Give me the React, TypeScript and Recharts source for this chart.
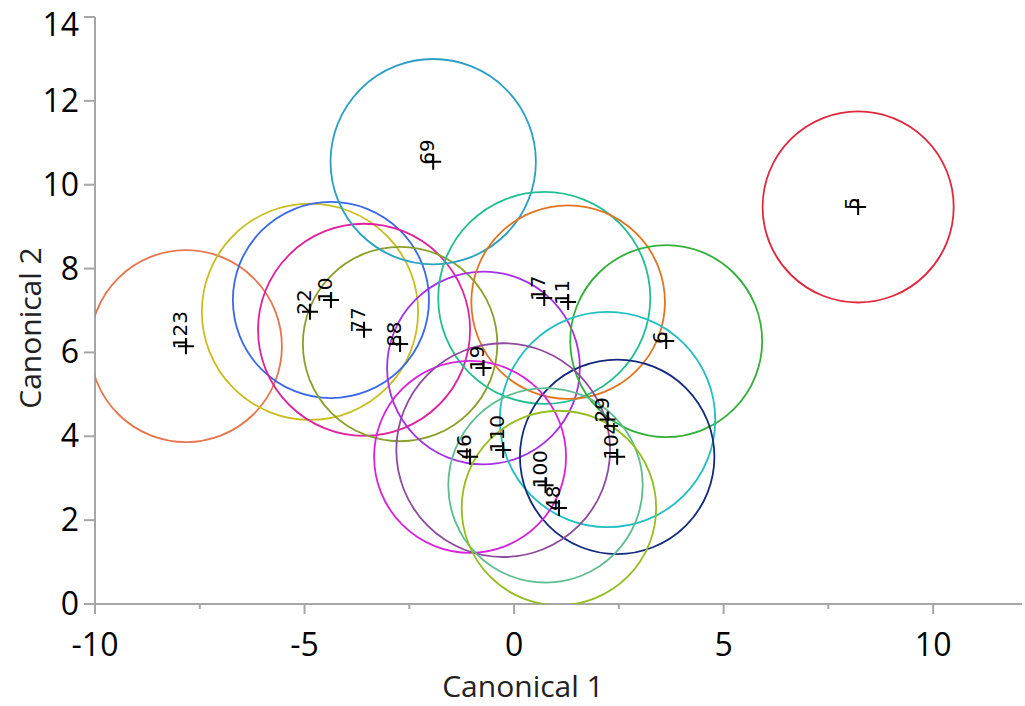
import React from 'react';
import { ScatterChart, Scatter, XAxis, YAxis } from 'recharts';

// group centroids in canonical space, with circle radius in canonical units
const groups = ['123', '22', '10', '77', '88', '69', '19', '17', '11', '6', '5', '29', '104', '46', '110', '100', '48'];
const canonical1 = [-7.83, -4.87, -4.37, -3.58, -2.72, -1.93, -0.73, 0.72, 1.29, 3.63, 8.21, 2.23, 2.46, -1.05, -0.26, 0.75, 1.07];
const canonical2 = [6.15, 6.97, 7.25, 6.54, 6.2, 10.55, 5.63, 7.3, 7.2, 6.27, 9.47, 4.4, 3.51, 3.51, 3.67, 2.83, 2.29];
const radius = [2.29, 2.58, 2.34, 2.53, 2.32, 2.45, 2.3, 2.53, 2.31, 2.29, 2.28, 2.57, 2.32, 2.29, 2.55, 2.32, 2.32];

const xTicks = [-10, -7.5, -5, -2.5, 0, 2.5, 5, 7.5, 10];
const yTicks = [0, 2, 4, 6, 8, 10, 12, 14];

const palette = [
    '#E8744E', '#C9BE1E', '#3A68E6', '#E0229E', '#8B9E2A', '#2BA0C4', '#A52EE6', '#22BE92', '#E27420',
    '#32B03A', '#E0283C', '#22BEC2', '#13297E', '#D822DC', '#8E4A9E', '#5CBE8E', '#92BE1E',
];

const W = 1025;
const H = 706;
const margin = { top: 17, right: 3, left: 0, bottom: 0 };
const Y_AXIS_W = 95;
const X_AXIS_H = 102;
const X_DOMAIN: [number, number] = [-10, 12.12];
const Y_DOMAIN: [number, number] = [0, 14];

// pixels per canonical unit, taken from the x axis scale
const pxPerUnit = (W - margin.left - margin.right - Y_AXIS_W) / (X_DOMAIN[1] - X_DOMAIN[0]);

const AXIS = '#A6A6A6';
const FONT = '"Open Sans", sans-serif';
const TICK_FS = 32;

const data = groups.map((id, i) => ({
    id,
    x: canonical1[i],
    y: canonical2[i],
    r: radius[i],
    color: palette[i],
}));

const Ring = (props: any) => {
    const { cx, cy, payload } = props;
    return <circle cx={cx} cy={cy} r={payload.r * pxPerUnit} fill="none" stroke={payload.color} strokeWidth={1.8} />;
};

const Marker = (props: any) => {
    const { cx, cy, payload } = props;
    return (
        <g>
            <path d={`M${cx - 8},${cy}H${cx + 8}M${cx},${cy - 8}V${cy + 8}`} stroke="#000" strokeWidth={2} />
            <text
                transform={`translate(${cx + 1},${cy + 3}) rotate(-90)`}
                fontFamily='"DejaVu Sans", sans-serif'
                fontSize={20}
                fill="#000"
            >
                {payload.id}
            </text>
        </g>
    );
};

const XTick = (props: any) => {
    const { x, y, payload } = props;
    const major = payload.value % 5 === 0;
    return (
        <g>
            <line x1={x} x2={x} y1={y} y2={y + (major ? 10 : 5)} stroke={AXIS} strokeWidth={2} />
            {major && (
                <text x={x} y={y + 52} textAnchor="middle" fontFamily={FONT} fontSize={TICK_FS} fill="#000">
                    {payload.value}
                </text>
            )}
        </g>
    );
};

// top label is pushed down so it stays inside the frame
const YTick = (props: any) => {
    const { x, y, payload } = props;
    return (
        <text x={x} y={Math.max(y + 11, 36)} textAnchor="end" fontFamily={FONT} fontSize={TICK_FS} fill="#000">
            {payload.value}
        </text>
    );
};

const XTitle = () => (
    <text x={523} y={697} textAnchor="middle" fontFamily={FONT} fontSize={30} fill="#222">
        Canonical 1
    </text>
);

const YTitle = () => (
    <text transform="translate(41,328) rotate(-90)" textAnchor="middle" fontFamily={FONT} fontSize={30} fill="#222">
        Canonical 2
    </text>
);

const App: React.FC = () => {
    return (
        <div style={{ position: 'absolute', left: 0, top: 0, background: '#fff' }}>
            <ScatterChart width={W} height={H} margin={margin}>
                <XAxis
                    type="number"
                    dataKey="x"
                    domain={X_DOMAIN}
                    allowDataOverflow
                    ticks={xTicks}
                    interval={0}
                    height={X_AXIS_H}
                    tickSize={0}
                    tickMargin={0}
                    tickLine={false}
                    axisLine={{ stroke: AXIS, strokeWidth: 2 }}
                    tick={<XTick />}
                    label={<XTitle />}
                />
                <YAxis
                    type="number"
                    dataKey="y"
                    domain={Y_DOMAIN}
                    allowDataOverflow
                    ticks={yTicks}
                    interval={0}
                    width={Y_AXIS_W}
                    tickSize={11}
                    tickMargin={5}
                    tickLine={{ stroke: AXIS, strokeWidth: 2 }}
                    axisLine={{ stroke: AXIS, strokeWidth: 2 }}
                    tick={<YTick />}
                    label={<YTitle />}
                />
                <Scatter data={data} shape={<Ring />} isAnimationActive={false} />
                <Scatter data={data} shape={<Marker />} isAnimationActive={false} />
            </ScatterChart>
        </div>
    );
};

export default App;
